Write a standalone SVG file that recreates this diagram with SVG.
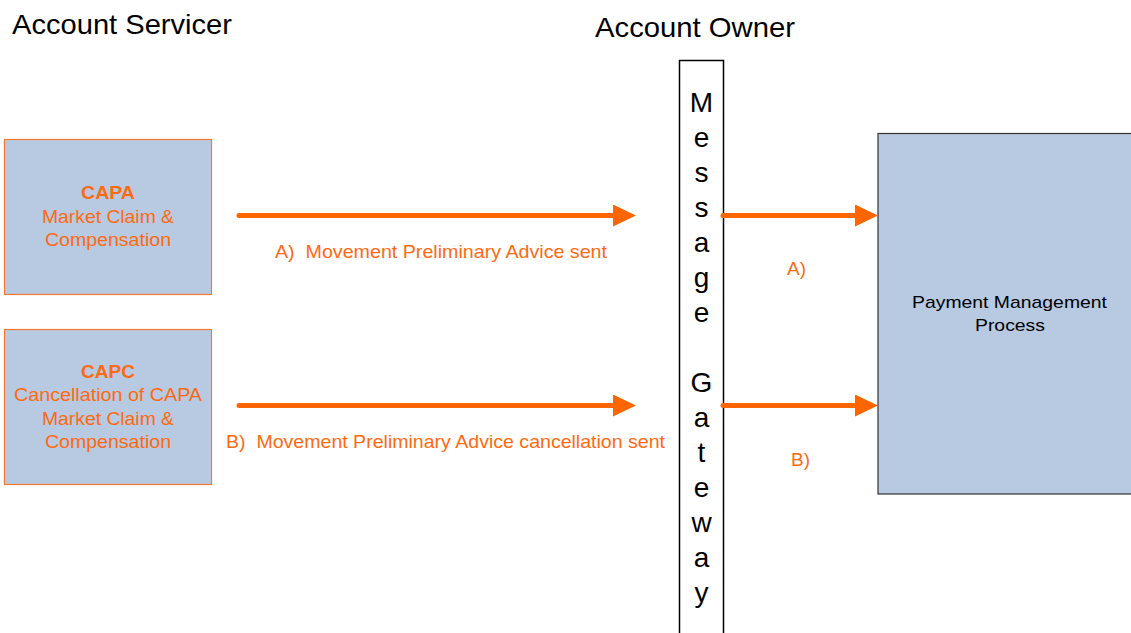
<svg xmlns="http://www.w3.org/2000/svg" width="1131" height="633" viewBox="0 0 1131 633">
<style>
text{font-family:"Liberation Sans",Arial,sans-serif}
.title{font-size:28px;fill:#000}
.box{fill:#B8C9E2;stroke:#F47A32;stroke-width:1.2}
.pbox{fill:#B8C9E2;stroke:#333;stroke-width:1.2}
.gw{fill:#fff;stroke:#000;stroke-width:1.5}
.bt{font-size:18.5px;fill:#FF6A10;text-anchor:middle}
.bold{font-weight:bold}
.lbl{font-size:18.5px;fill:#FF6A10;white-space:pre}
.gl{font-size:28px;fill:#000;text-anchor:middle}
.pt{font-size:17px;fill:#000;text-anchor:middle}
.arr{stroke:#FF6600;stroke-width:5;stroke-linecap:round;fill:none;marker-end:url(#head)}
</style>
<defs>
<marker id="head" markerUnits="userSpaceOnUse" markerWidth="26" markerHeight="24" refX="0" refY="11" orient="auto">
<path d="M0,0 L23,11 L0,22 Z" fill="#FF6600"/>
</marker>
</defs>
<text class="title" x="12" y="34" textLength="220" lengthAdjust="spacingAndGlyphs">Account Servicer</text>
<text class="title" x="595" y="37" textLength="200" lengthAdjust="spacingAndGlyphs">Account Owner</text>

<g id="capa">
<rect class="box" x="4.5" y="139.5" width="207" height="155"/>
<text class="bt bold" x="108" y="199" textLength="54" lengthAdjust="spacingAndGlyphs">CAPA</text>
<text class="bt" x="108" y="222.5" textLength="132" lengthAdjust="spacingAndGlyphs">Market Claim &amp;</text>
<text class="bt" x="108" y="246" textLength="126" lengthAdjust="spacingAndGlyphs">Compensation</text>
</g>

<g id="capc">
<rect class="box" x="4.5" y="329.5" width="207" height="155"/>
<text class="bt bold" x="108" y="378" textLength="54" lengthAdjust="spacingAndGlyphs">CAPC</text>
<text class="bt" x="108" y="401" textLength="188" lengthAdjust="spacingAndGlyphs">Cancellation of CAPA</text>
<text class="bt" x="108" y="424.5" textLength="132" lengthAdjust="spacingAndGlyphs">Market Claim &amp;</text>
<text class="bt" x="108" y="447.5" textLength="126" lengthAdjust="spacingAndGlyphs">Compensation</text>
</g>

<g id="gateway">
<rect class="gw" x="679.5" y="60.5" width="44" height="590"/>
<text class="gl" x="701.5" y="112">M</text>
<text class="gl" x="701.5" y="147">e</text>
<text class="gl" x="701.5" y="182">s</text>
<text class="gl" x="701.5" y="217">s</text>
<text class="gl" x="701.5" y="252">a</text>
<text class="gl" x="701.5" y="287">g</text>
<text class="gl" x="701.5" y="322">e</text>
<text class="gl" x="701.5" y="392">G</text>
<text class="gl" x="701.5" y="427">a</text>
<text class="gl" x="701.5" y="462">t</text>
<text class="gl" x="701.5" y="497">e</text>
<text class="gl" x="701.5" y="532">w</text>
<text class="gl" x="701.5" y="567">a</text>
<text class="gl" x="701.5" y="602">y</text>
</g>

<g id="payment">
<rect class="pbox" x="878" y="133.5" width="260" height="360.5"/>
<text class="pt" x="1009.5" y="307.5" textLength="195" lengthAdjust="spacingAndGlyphs">Payment Management</text>
<text class="pt" x="1010" y="331" textLength="70" lengthAdjust="spacingAndGlyphs">Process</text>
</g>

<g id="connectors">
<line class="arr" x1="239" y1="215.5" x2="613" y2="215.5"/>
<line class="arr" x1="239" y1="405.5" x2="613" y2="405.5"/>
<line class="arr" x1="723" y1="215.5" x2="855" y2="215.5"/>
<line class="arr" x1="723" y1="405.5" x2="855" y2="405.5"/>
<text class="lbl" x="275" y="258" textLength="332" lengthAdjust="spacingAndGlyphs" xml:space="preserve">A)  Movement Preliminary Advice sent</text>
<text class="lbl" x="226" y="447.5" textLength="439" lengthAdjust="spacingAndGlyphs" xml:space="preserve">B)  Movement Preliminary Advice cancellation sent</text>
<text class="lbl" x="787" y="275" textLength="19" lengthAdjust="spacingAndGlyphs">A)</text>
<text class="lbl" x="791" y="466" textLength="19" lengthAdjust="spacingAndGlyphs">B)</text>
</g>
</svg>
